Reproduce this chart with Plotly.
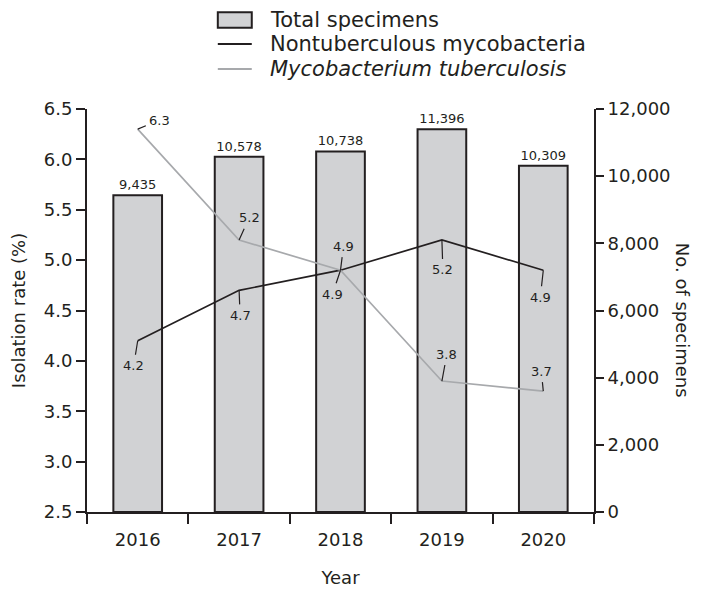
import plotly.graph_objects as go

years = ["2016", "2017", "2018", "2019", "2020"]
total_specimens = [9435, 10578, 10738, 11396, 10309]
ntm_rate = [4.2, 4.7, 4.9, 5.2, 4.9]
mtb_rate = [6.3, 5.2, 4.9, 3.8, 3.7]

series_names = ["Total specimens", "Nontuberculous mycobacteria",
                "<i>Mycobacterium tuberculosis</i>"]

# label offsets (pixels) for leader-line annotations
ntm_offsets = [(-4, 25), (1, 25), (3, -24), (1, 30), (-3, 27)]
mtb_offsets = [(22, -9), (10, -22), (-8, 24), (5, -27), (-2, -20)]

FONT = "DejaVu Sans, Verdana, sans-serif"
TXT = "#231f20"
GRAY_LINE = "#a7a9ac"
BAR_FILL = "#d1d2d4"

fig = go.Figure()
fig.add_trace(go.Bar(
    x=years, y=total_specimens, name=series_names[0],
    marker=dict(color=BAR_FILL, line=dict(color=TXT, width=2)),
    texttemplate="%{y:,}", textposition="outside", cliponaxis=False,
    textfont=dict(size=13, color=TXT, family=FONT),
    yaxis="y",
))
fig.add_trace(go.Scatter(
    x=years, y=ntm_rate, name=series_names[1], mode="lines",
    line=dict(color=TXT, width=1.7), yaxis="y2",
))
fig.add_trace(go.Scatter(
    x=years, y=mtb_rate, name=series_names[2], mode="lines",
    line=dict(color=GRAY_LINE, width=1.7), yaxis="y2",
))

annotations = []
for series, offs in ((ntm_rate, ntm_offsets), (mtb_rate, mtb_offsets)):
    for i, (v, (ax, ay)) in enumerate(zip(series, offs)):
        annotations.append(dict(
            x=i, y=v, xref="x", yref="y2", text=f"{v:.1f}",
            showarrow=True, arrowhead=0, arrowwidth=1.2, arrowcolor=TXT,
            ax=ax, ay=ay, standoff=0, startstandoff=2,
            font=dict(size=13, color=TXT, family=FONT),
        ))
annotations.append(dict(
    x=1.199, y=0.476, xref="paper", yref="paper", text="No. of specimens",
    textangle=90, showarrow=False, font=dict(size=18, color=TXT, family=FONT),
))

# legend (drawn in paper coordinates above the plot area)
leg_rows_y = [1.2208, 1.1613, 1.0993]
leg_sym_x0, leg_sym_x1, leg_text_x = 0.258, 0.325, 0.357
shapes = [
    dict(type="rect", xref="paper", yref="paper", x0=leg_sym_x0, x1=leg_sym_x1,
         y0=leg_rows_y[0] - 0.019, y1=leg_rows_y[0] + 0.019,
         fillcolor=BAR_FILL, line=dict(color=TXT, width=2)),
    dict(type="line", xref="paper", yref="paper", x0=leg_sym_x0, x1=leg_sym_x1,
         y0=leg_rows_y[1], y1=leg_rows_y[1], line=dict(color=TXT, width=2)),
    dict(type="line", xref="paper", yref="paper", x0=leg_sym_x0, x1=leg_sym_x1,
         y0=leg_rows_y[2], y1=leg_rows_y[2], line=dict(color=GRAY_LINE, width=2)),
]
for name, ry in zip(series_names, leg_rows_y):
    annotations.append(dict(
        x=leg_text_x, y=ry, xref="paper", yref="paper", text=name,
        xanchor="left", yanchor="middle", showarrow=False,
        font=dict(size=21, color=TXT, family=FONT),
    ))

axis_common = dict(showgrid=False, zeroline=False, showline=True,
                   linecolor=TXT, linewidth=2, ticks="outside", tickcolor=TXT,
                   tickwidth=2, tickfont=dict(size=18, color=TXT, family=FONT))

fig.update_layout(
    width=710, height=589,
    margin=dict(l=79, r=124, t=101, b=85, autoexpand=False),
    plot_bgcolor="white", paper_bgcolor="white",
    font=dict(family=FONT, color=TXT),
    bargap=0.52,
    showlegend=False,
    xaxis=dict(**axis_common, type="category", tickson="boundaries", ticklen=10,
               range=[-0.5, 4.5], ticklabelstandoff=10,
               title=dict(text="Year", font=dict(size=18, color=TXT, family=FONT), standoff=23)),
    yaxis=dict(**axis_common, side="right", range=[0, 12000], dtick=2000,
               tickformat=",", ticklen=8),
    yaxis2=dict(**axis_common, side="left", overlaying="y", range=[2.5, 6.5],
                dtick=0.5, tickformat=".1f", ticklen=9,
                title=dict(text="Isolation rate (%)", font=dict(size=18, color=TXT, family=FONT), standoff=20)),
    annotations=annotations,
    shapes=shapes,
)

fig.write_html("out.html")
